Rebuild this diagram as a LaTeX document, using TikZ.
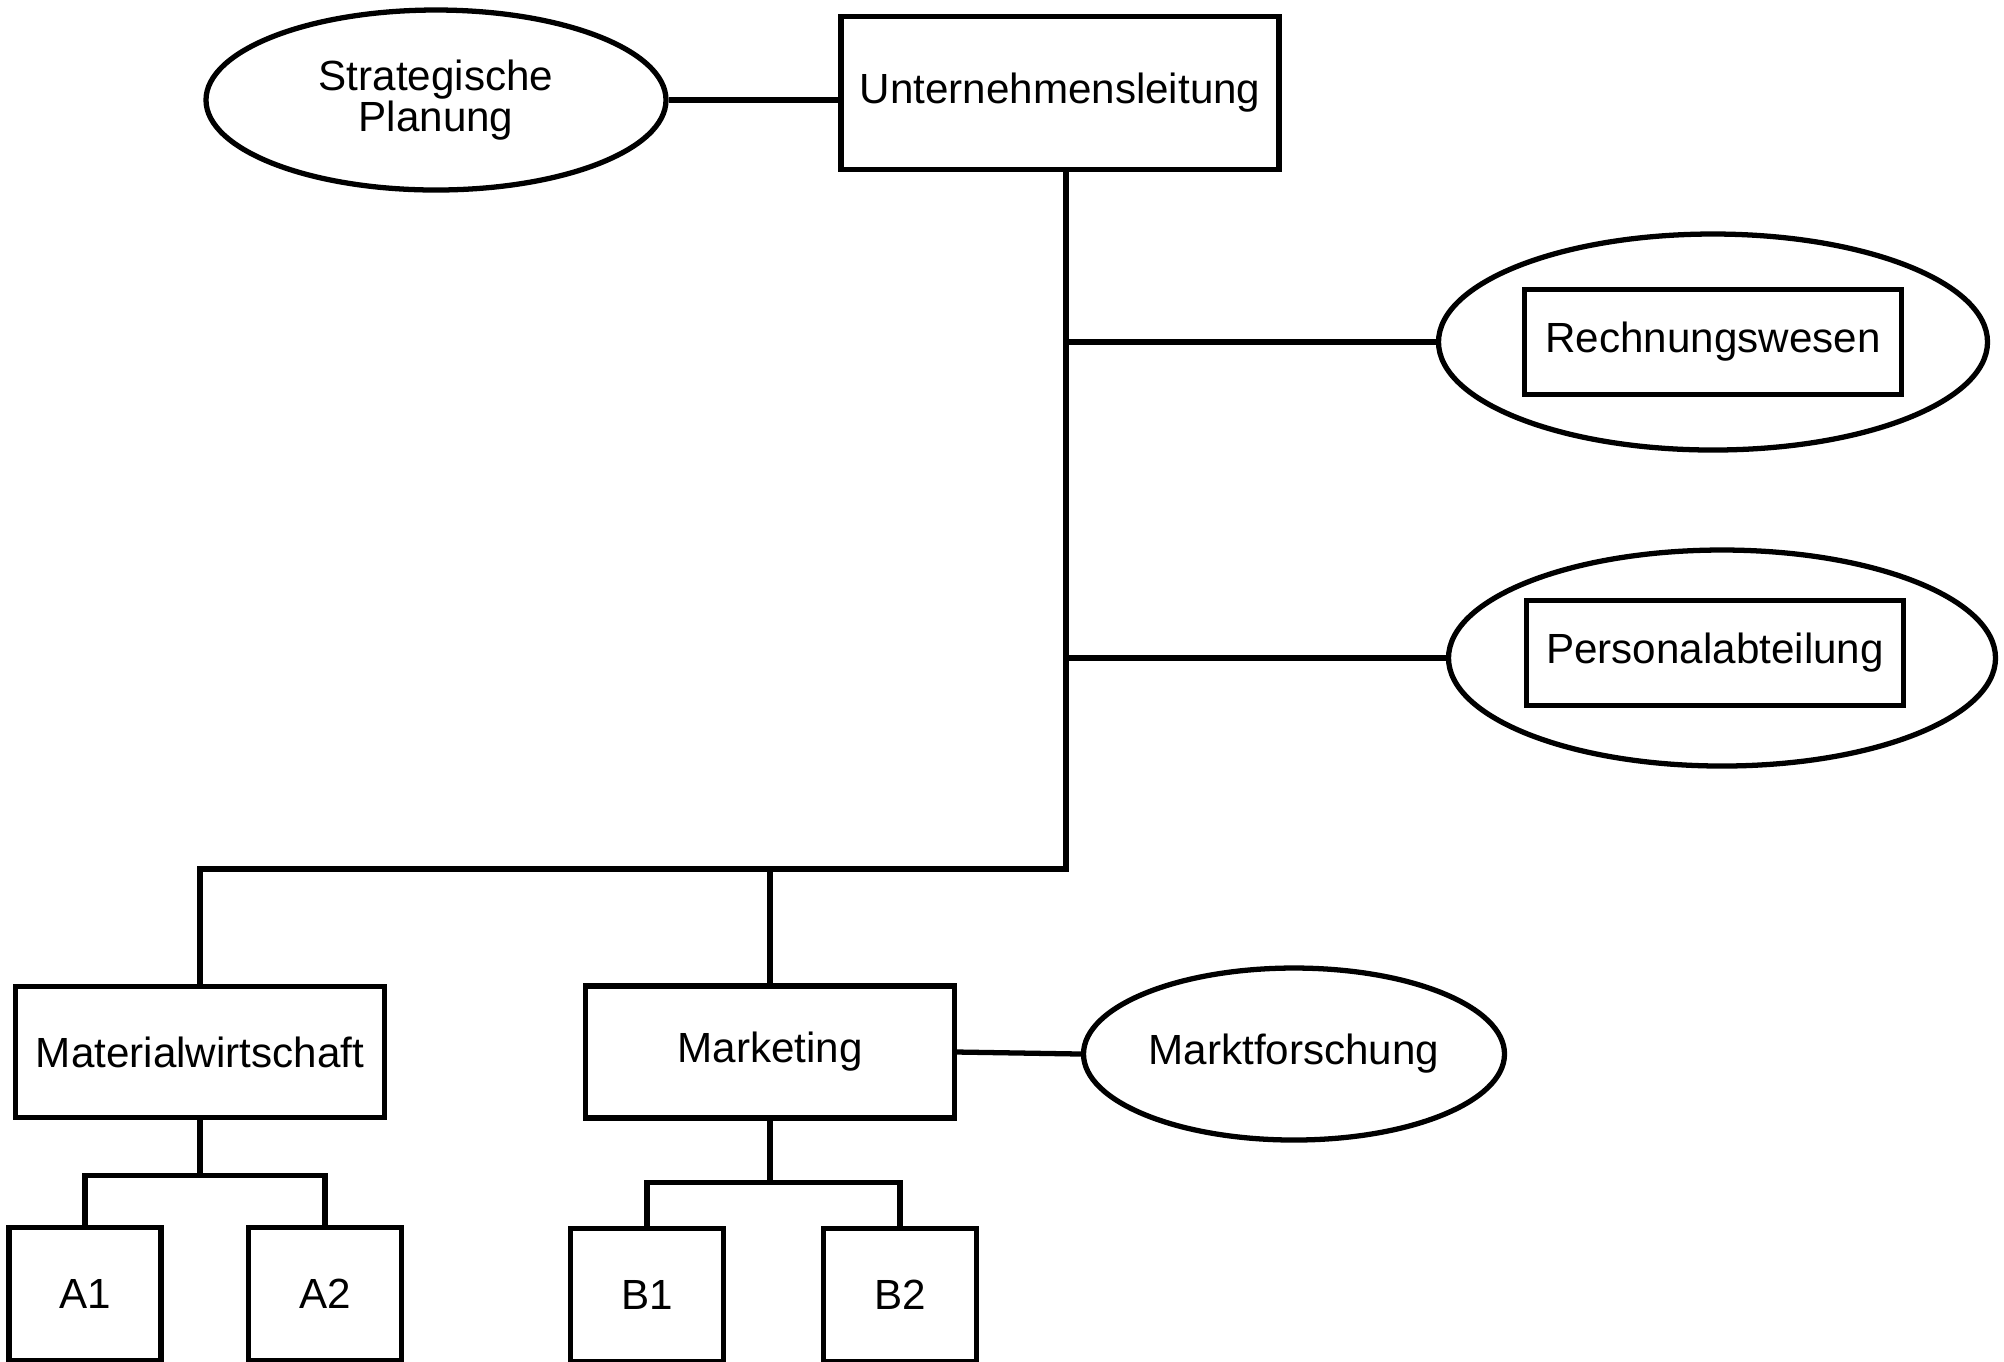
\documentclass[tikz,border=0pt]{standalone}
\usepackage{fontspec}
\setmainfont{Liberation Sans}
\usepackage{tikz}
\usetikzlibrary{shapes.geometric}
\tikzstyle{unit} = [rectangle, line width=1.5pt, draw=black, text centered, font=\fontsize{12}{11.7}\selectfont]
\tikzstyle{staff} = [ellipse, line width=1.5pt, draw=black, inner sep=1pt, align=center, font=\fontsize{12}{11.7}\selectfont]
\tikzstyle{connector} = [line width=1.5pt]

\begin{document}
\begin{tikzpicture}[node distance=2cm]
    \useasboundingbox (0,0) rectangle (20.04,-13.61);
    \node (ul) [unit, minimum width=4.38cm, minimum height=1.53cm] at (10.6,-0.93) {Unternehmensleitung};
    \node (sp) [staff, left of=ul, xshift=-4.24cm, yshift=-0.07cm, minimum width=4.6cm, minimum height=1.8cm] {Strategische\\Planung};
    \node (rw) [staff, right of=ul, xshift=4.53cm, yshift=-2.49cm, minimum width=5.49cm, minimum height=2.16cm] {};
    \node (rwbox) [unit, minimum width=3.77cm, minimum height=1.05cm] at (rw) {Rechnungswesen};
    \node (pa) [staff, below of=rw, xshift=0.09cm, yshift=-1.16cm, minimum width=5.47cm, minimum height=2.16cm] {};
    \node (pabox) [unit, minimum width=3.77cm, minimum height=1.05cm, xshift=-0.07cm, yshift=0.05cm] at (pa) {Personalabteilung};

    \node (mw) [unit, minimum width=3.69cm, minimum height=1.31cm] at (2.0,-10.52) {Materialwirtschaft};
    \node (mk) [unit, right of=mw, xshift=3.7cm, minimum width=3.69cm, minimum height=1.32cm] {Marketing};
    \node (mf) [staff, right of=mk, xshift=3.24cm, yshift=-0.02cm, minimum width=4.13cm, minimum height=1.72cm] {Marktforschung};

    \node (a1) [unit, below of=mw, xshift=-1.15cm, yshift=-0.42cm, minimum width=1.52cm, minimum height=1.33cm] {A1};
    \node (a2) [unit, right of=a1, xshift=0.4cm, minimum width=1.53cm, minimum height=1.33cm] {A2};
    \node (b1) [unit, below of=mk, xshift=-1.23cm, yshift=-0.43cm, minimum width=1.53cm, minimum height=1.33cm] {B1};
    \node (b2) [unit, right of=b1, xshift=0.53cm, minimum width=1.53cm, minimum height=1.33cm] {B2};

    \coordinate (bus) at (10.66,-8.69);
    \coordinate (mwfork) at ([yshift=-0.55cm]mw.south);
    \coordinate (mkfork) at ([yshift=-0.62cm]mk.south);

    \draw [connector] (sp.east) -- (sp.east -| ul.west);
    \draw [connector] ([xshift=0.06cm]ul.south) -- (bus) -- (bus -| mw.north) -- (mw.north);
    \draw [connector] (bus -| mk.north) -- (mk.north);
    \draw [connector] (bus |- rw.west) -- (rw.west);
    \draw [connector] (bus |- pa.west) -- (pa.west);
    \draw [connector] (mk.east) -- (mf.west);
    \draw [connector] (mw.south) -- (mwfork);
    \draw [connector] (a1.north) |- (mwfork) -| (a2.north);
    \draw [connector] (mk.south) -- (mkfork);
    \draw [connector] (b1.north) |- (mkfork) -| (b2.north);
\end{tikzpicture}
\end{document}
